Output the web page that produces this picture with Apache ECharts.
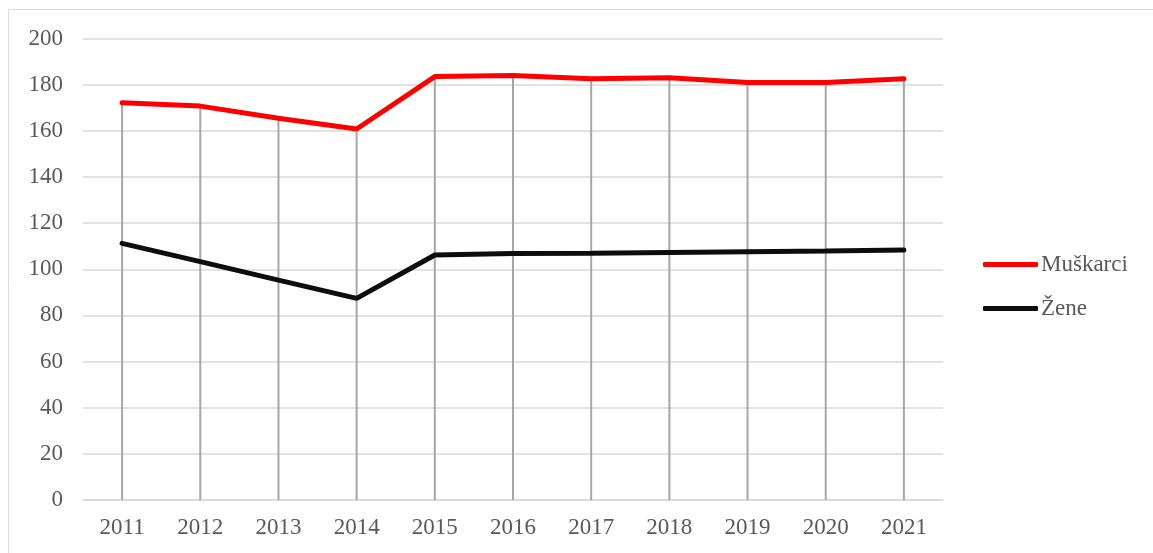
<!DOCTYPE html>
<html>
<head>
<meta charset="utf-8">
<script src="https://cdn.jsdelivr.net/npm/echarts@6/dist/echarts.min.js"></script>
<style>
  html, body { margin: 0; padding: 0; background: #fff; }
  #chart { width: 1153px; height: 553px; }
</style>
</head>
<body>
<div id="chart"></div>
<script>
const years = ['2011','2012','2013','2014','2015','2016','2017','2018','2019','2020','2021'];
const muskarci = [172.2, 170.7, 165.4, 160.8, 183.5, 184.0, 182.6, 183.0, 180.9, 180.9, 182.6];
const zene = [111.2, 103.3, 95.3, 87.4, 106.2, 106.8, 106.9, 107.3, 107.6, 107.9, 108.3];
const seriesNames = ['Muškarci', 'Žene'];

const chart = echarts.init(document.getElementById('chart'), null, { renderer: 'canvas' });
const font = 'Liberation Serif';
const textColor = '#595959';

chart.setOption({
  animation: false,
  backgroundColor: '#ffffff',
  graphic: [{
    type: 'rect',
    shape: { x: 8.5, y: 9.5, width: 1200, height: 600 },
    style: { fill: 'none', stroke: '#d9d9d9', lineWidth: 1 },
    silent: true
  }],
  grid: { left: 83, right: 210, top: 38.5, bottom: 53, containLabel: false },
  legend: {
    orient: 'vertical',
    left: 978,
    top: 248,
    itemWidth: 55,
    itemHeight: 5,
    itemGap: 21,
    icon: 'roundRect',
    data: seriesNames,
    textStyle: { fontFamily: font, fontSize: 23, color: textColor, padding: [0, 0, 0, -2] }
  },
  xAxis: {
    type: 'category',
    data: years,
    boundaryGap: true,
    axisLine: { show: true, lineStyle: { color: '#d9d9d9', width: 1.5 } },
    axisTick: { show: false },
    splitLine: { show: false },
    axisLabel: { fontFamily: font, fontSize: 23, color: textColor, margin: 16 }
  },
  yAxis: {
    type: 'value',
    min: 0,
    max: 200,
    interval: 20,
    axisLine: { show: false },
    axisTick: { show: false },
    splitLine: { lineStyle: { color: '#d9d9d9', width: 1.5 } },
    axisLabel: { fontFamily: font, fontSize: 23, color: textColor, margin: 20 }
  },
  series: [
    {
      name: 'drop',
      type: 'bar',
      data: muskarci,
      barWidth: 2,
      itemStyle: { color: '#a6a6a6' },
      z: 1,
      silent: true
    },
    {
      name: seriesNames[0],
      type: 'line',
      data: muskarci,
      symbol: 'none',
      lineStyle: { color: '#ff0000', width: 5, cap: 'round' },
      itemStyle: { color: '#ff0000' },
      z: 3
    },
    {
      name: seriesNames[1],
      type: 'line',
      data: zene,
      symbol: 'none',
      lineStyle: { color: '#0d0d0d', width: 5, cap: 'round' },
      itemStyle: { color: '#0d0d0d' },
      z: 3
    }
  ]
});
</script>
</body>
</html>
